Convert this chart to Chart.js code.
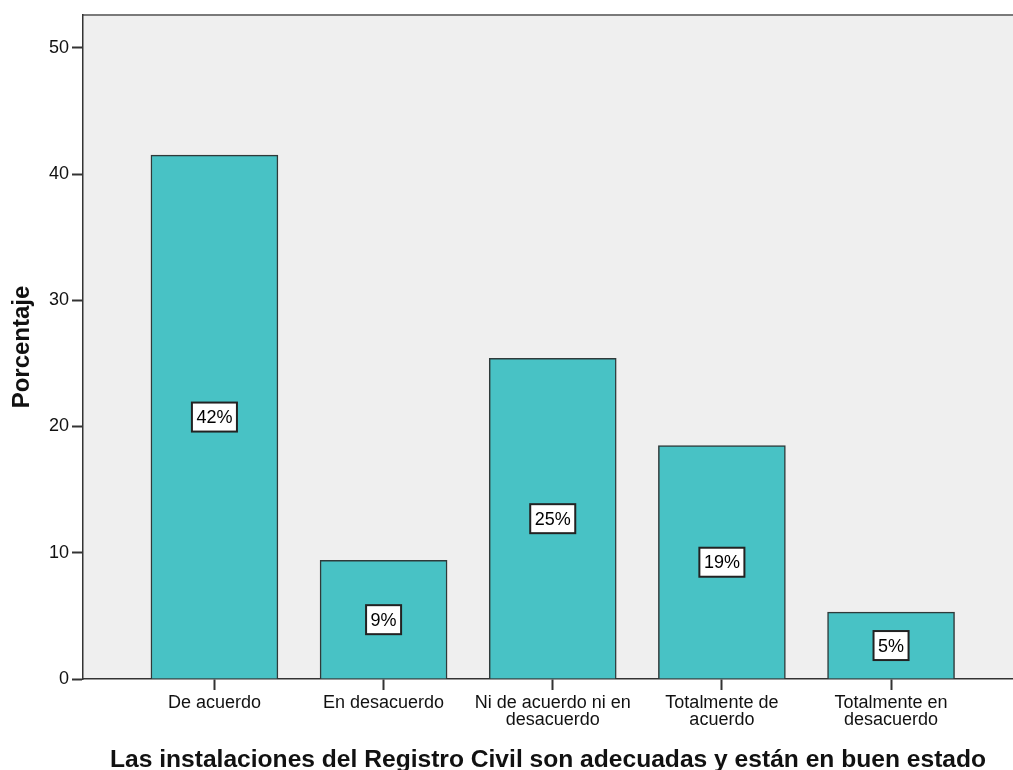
<!DOCTYPE html>
<html>
<head>
<meta charset="utf-8">
<script src="https://cdn.jsdelivr.net/npm/chart.js@4/dist/chart.umd.min.js"></script>
<style>
  html, body { margin: 0; padding: 0; background: #ffffff; }
  #wrap { width: 1013px; height: 770px; }
</style>
</head>
<body>
<div id="wrap"><canvas id="c" width="1013" height="770"></canvas></div>
<script>
// ---- data ----
const categories = [
  ["De acuerdo"],
  ["En desacuerdo"],
  ["Ni de acuerdo ni en", "desacuerdo"],
  ["Totalmente de", "acuerdo"],
  ["Totalmente en", "desacuerdo"]
];
const percentages = [41.5, 9.4, 25.4, 18.5, 5.3];
const barLabels = ["42%", "9%", "25%", "19%", "5%"];
const yTicks = [0, 10, 20, 30, 40, 50];
const xTitle = "Las instalaciones del Registro Civil son adecuadas y están en buen estado";
const yTitle = "Porcentaje";

const FONT = "'Liberation Sans', Arial, sans-serif";

const plotDecor = {
  id: 'plotDecor',
  beforeDraw(chart) {
    const { ctx, chartArea: a } = chart;
    ctx.save();
    ctx.fillStyle = '#EFEFEF';
    ctx.fillRect(a.left, a.top, a.right - a.left, a.bottom - a.top);
    ctx.strokeStyle = '#7a7a7a';
    ctx.lineWidth = 2;
    ctx.beginPath();
    ctx.moveTo(a.left, a.top);
    ctx.lineTo(a.right, a.top);
    ctx.stroke();
    ctx.restore();
  }
};

const boxLabels = {
  id: 'boxLabels',
  afterDatasetsDraw(chart) {
    const { ctx } = chart;
    const meta = chart.getDatasetMeta(0);
    const ys = chart.scales.y;
    ctx.save();
    ctx.font = "18px " + FONT;
    ctx.textAlign = 'center';
    ctx.textBaseline = 'middle';
    meta.data.forEach((bar, i) => {
      const cx = bar.x;
      const cy = ys.getPixelForValue(percentages[i] / 2);
      const txt = barLabels[i];
      const w = ctx.measureText(txt).width + 9;
      const h = 29;
      ctx.fillStyle = '#ffffff';
      ctx.fillRect(cx - w / 2, cy - h / 2, w, h);
      ctx.strokeStyle = '#222222';
      ctx.lineWidth = 2;
      ctx.strokeRect(cx - w / 2, cy - h / 2, w, h);
      ctx.fillStyle = '#000000';
      ctx.fillText(txt, cx, cy + 1);
    });
    ctx.restore();
  }
};

new Chart(document.getElementById('c'), {
  type: 'bar',
  data: {
    datasets: [{
      data: percentages.map((v, i) => ({ x: i, y: v })),
      backgroundColor: '#48C2C5',
      borderColor: '#2f3a3a',
      borderWidth: 1.5,
      barThickness: 127
    }]
  },
  options: {
    responsive: false,
    animation: false,
    devicePixelRatio: 1,
    layout: { padding: { left: 0, right: 0, top: 15, bottom: 0 } },
    plugins: { legend: { display: false }, tooltip: { enabled: false } },
    scales: {
      x: {
        type: 'linear',
        offset: false,
        min: -0.777,
        max: 4.721,
        afterBuildTicks(axis) { axis.ticks = categories.map((c, i) => ({ value: i })); },
        afterFit(axis) { axis.height = 91; },
        border: { display: true, color: '#333333', width: 1.5 },
        grid: { offset: false, drawOnChartArea: false, drawTicks: true, tickLength: 11, color: '#333333', tickWidth: 2 },
        ticks: {
          autoSkip: false,
          maxRotation: 0,
          padding: 5,
          color: '#111111',
          font: { family: FONT, size: 18, lineHeight: 0.93 },
          callback: (v) => categories[v]
        },
        title: {
          display: true,
          text: xTitle,
          color: '#111111',
          font: { family: FONT, size: 24.6, weight: 'bold', lineHeight: 0.8 },
          padding: { top: 0, bottom: 0 }
        }
      },
      y: {
        min: 0,
        max: 52.6,
        afterBuildTicks(axis) { axis.ticks = yTicks.map(v => ({ value: v })); },
        afterFit(axis) { axis.width = 83; },
        border: { display: true, color: '#333333', width: 1.5 },
        grid: { drawOnChartArea: false, drawTicks: true, tickLength: 11, color: '#333333', tickWidth: 2 },
        ticks: {
          padding: 3,
          color: '#111111',
          font: { family: FONT, size: 18 }
        },
        title: {
          display: true,
          text: yTitle,
          color: '#111111',
          font: { family: FONT, size: 24, weight: 'bold', lineHeight: 1.2 },
          padding: { top: 8, bottom: 0 }
        }
      }
    }
  },
  plugins: [plotDecor, boxLabels]
});
</script>
</body>
</html>
